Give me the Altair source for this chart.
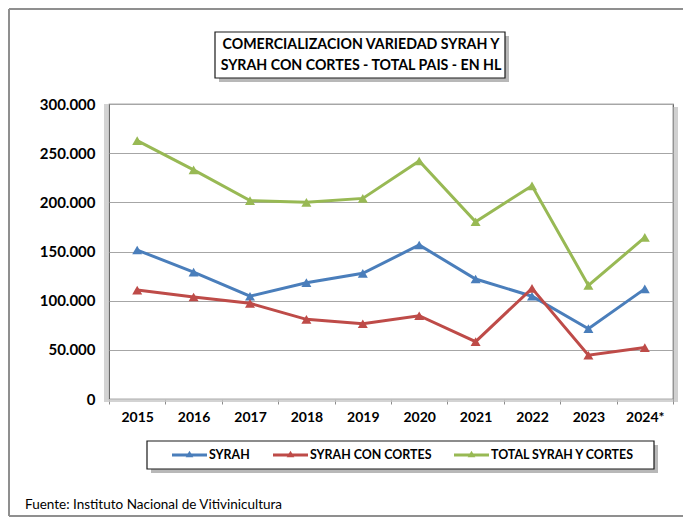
import altair as alt
import pandas as pd

years = ["2015", "2016", "2017", "2018", "2019", "2020", "2021", "2022", "2023", "2024*"]
syrah = [151500, 129000, 104500, 118300, 127800, 156600, 122000, 104500, 71500, 112000]
syrah_cortes = [110800, 103700, 97300, 81000, 76500, 84700, 58300, 112500, 44500, 52300]
total = [262700, 233000, 201800, 200000, 204000, 242000, 180300, 216800, 115500, 164300]

series_names = ["SYRAH", "SYRAH CON CORTES", "TOTAL SYRAH Y CORTES"]
series_colors = ["#4A7EBB", "#BE4B48", "#98B954"]
y_ticks = [0, 50000, 100000, 150000, 200000, 250000, 300000]
title_line1 = "COMERCIALIZACION VARIEDAD SYRAH  Y"
title_line2 = "SYRAH CON CORTES - TOTAL PAIS - EN HL"
source_text = "Fuente: Instituto Nacional de Vitivinicultura"

rows = []
for name, vals in zip(series_names, [syrah, syrah_cortes, total]):
    for yr, v in zip(years, vals):
        rows.append({"year": yr, "value": v, "serie": name})
df = pd.DataFrame(rows)

FONT = "Lato"
W, H = 564, 295

one = pd.DataFrame({"a": [0]})

x_enc = alt.X(
    "year:N", sort=years, bandPosition=0.5,
    scale=alt.Scale(type="band", paddingInner=0, paddingOuter=0),
    axis=alt.Axis(title=None, labelAngle=0, labelFont=FONT, labelFontWeight="bold",
                  labelFontSize=14, labelColor="#000000", tickBand="extent",
                  tickSize=5, tickColor="#8c8c8c", labelPadding=6, domain=False,
                  grid=False),
)
y_enc = alt.Y(
    "value:Q",
    scale=alt.Scale(domain=[0, 300000], nice=False),
    axis=alt.Axis(title=None, values=y_ticks, labelFont=FONT, labelFontWeight="bold",
                  labelFontSize=15, labelColor="#000000", tickSize=0, labelPadding=14,
                  domain=False, gridColor="#a6a6a6", gridWidth=1,
                  labelExpr="replace(format(datum.value, ','), ',', '.')"),
)
color_scale = alt.Scale(domain=series_names, range=series_colors)

lines = alt.Chart(df).mark_line(strokeWidth=3).encode(
    x=x_enc, y=y_enc, color=alt.Color("serie:N", scale=color_scale, legend=None)
)
points = alt.Chart(df).mark_point(shape="triangle-up", filled=True, opacity=1).encode(
    x=x_enc, y=y_enc,
    color=alt.Color("serie:N", scale=color_scale, legend=None),
    size=alt.Size("serie:N", scale=alt.Scale(domain=series_names, range=[100, 100, 240]), legend=None),
)

# decorations: outer frame (right edge lies beyond the visible page)
frame_top = alt.Chart(one).mark_rule(color="#8f8f8f", strokeWidth=2).encode(
    x=alt.value(-100), x2=alt.value(600), y=alt.value(-95))
frame_left = alt.Chart(one).mark_rule(color="#8f8f8f", strokeWidth=2).encode(
    x=alt.value(-100), y=alt.value(-95), y2=alt.value(412))
frame_bottom = alt.Chart(one).mark_rule(color="#8f8f8f", strokeWidth=2).encode(
    x=alt.value(-100), x2=alt.value(600), y=alt.value(412))

shadow_r = alt.Chart(one).mark_rect(fill="#b0b0b0", opacity=0.6).encode(
    x=alt.value(W), x2=alt.value(W + 5), y=alt.value(3), y2=alt.value(H + 3))
shadow_b = alt.Chart(one).mark_rect(fill="#c8c8c8", opacity=0.8).encode(
    x=alt.value(-5), x2=alt.value(W), y=alt.value(H), y2=alt.value(H + 3))
shadow_l = alt.Chart(one).mark_rect(fill="#c8c8c8", opacity=0.8).encode(
    x=alt.value(-5), x2=alt.value(0), y=alt.value(0), y2=alt.value(H))

title_shadow = alt.Chart(one).mark_rect(fill="#9a9a9a", opacity=0.7).encode(
    x=alt.value(110), x2=alt.value(400), y=alt.value(-68), y2=alt.value(-22))
title_box = alt.Chart(one).mark_rect(fill="white", stroke="#1a1a1a", strokeWidth=1.2).encode(
    x=alt.value(106), x2=alt.value(396), y=alt.value(-72), y2=alt.value(-26))
title_t1 = alt.Chart(pd.DataFrame({"t": [title_line1]})).mark_text(
    font=FONT, fontWeight="bold", fontSize=14.2, color="#000000", baseline="middle", align="center"
).encode(x=alt.value(252), y=alt.value(-59), text="t:N")
title_t2 = alt.Chart(pd.DataFrame({"t": [title_line2]})).mark_text(
    font=FONT, fontWeight="bold", fontSize=14.2, color="#000000", baseline="middle", align="center"
).encode(x=alt.value(252), y=alt.value(-38), text="t:N")

leg_shadow = alt.Chart(one).mark_rect(fill="#9a9a9a", opacity=0.7).encode(
    x=alt.value(42), x2=alt.value(549), y=alt.value(341), y2=alt.value(369))
leg_box = alt.Chart(one).mark_rect(fill="white", stroke="#1a1a1a", strokeWidth=1.2).encode(
    x=alt.value(38), x2=alt.value(545), y=alt.value(337), y2=alt.value(365))

# legend entries (line + triangle + label), laid out left to right
LEG_Y = 351
leg_x0 = [63, 164, 345]
legend_layers = []
for name, col, x0 in zip(series_names, series_colors, leg_x0):
    d = pd.DataFrame({"serie": [name]})
    legend_layers.append(alt.Chart(d).mark_rule(color=col, strokeWidth=3).encode(
        x=alt.value(x0), x2=alt.value(x0 + 35), y=alt.value(LEG_Y)))
    legend_layers.append(alt.Chart(d).mark_point(shape="triangle-up", filled=True, opacity=1,
                                                 color=col, size=60).encode(
        x=alt.value(x0 + 17.5), y=alt.value(LEG_Y - 1)))
    legend_layers.append(alt.Chart(d).mark_text(
        font=FONT, fontWeight="bold", fontSize=12.4, color="#000000", align="left",
        baseline="middle").encode(x=alt.value(x0 + 37), y=alt.value(LEG_Y), text="serie:N"))

source = alt.Chart(pd.DataFrame({"t": [source_text]})).mark_text(
    font=FONT, fontSize=13.5, color="#000000", align="left", baseline="middle"
).encode(x=alt.value(-84), y=alt.value(401), text="t:N")

chart = alt.layer(
    frame_top, frame_left, frame_bottom, shadow_r, shadow_b, shadow_l,
    title_shadow, title_box, title_t1, title_t2,
    leg_shadow, leg_box, *legend_layers, source, lines, points
).properties(
    width=W, height=H,
    autosize=alt.AutoSizeParams(type="none"),
    padding={"left": 101, "top": 96, "right": 10, "bottom": 118},
).configure_view(stroke="#595959", strokeWidth=1.2, fill="white")

chart.save("out.html", embed_options={"renderer": "svg", "actions": False})
